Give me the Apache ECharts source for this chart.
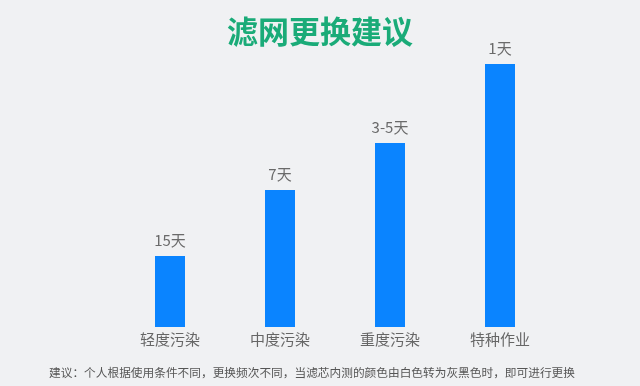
<!DOCTYPE html>
<html><head><meta charset="utf-8">
<script src="https://cdn.jsdelivr.net/npm/echarts@6/dist/echarts.min.js"></script>
<style>html,body{margin:0;padding:0;background:#f0f1f3}#c{width:640px;height:386px}</style>
</head><body><div id="c"></div>
<script>
var categories = ['轻度污染', '中度污染', '重度污染', '特种作业'];
var values = [71, 137, 184, 263];
var valueLabels = ['15天', '7天', '3-5天', '1天'];
var titleText = '滤网更换建议';
var noteText = '建议：个人根据使用条件不同，更换频次不同，当滤芯内测的颜色由白色转为灰黑色时，即可进行更换';

var font = '"Noto Sans CJK SC", "Noto Sans", sans-serif';
var chart = echarts.init(document.getElementById('c'));
chart.setOption({
  backgroundColor: '#f0f1f3',
  title: [{
    text: titleText, left: 'center', top: 11,
    textStyle: { color: '#1aab78', fontSize: 31, fontWeight: 'bold', fontFamily: font }
  }, {
    text: noteText, left: 44, top: 362,
    textStyle: { color: '#555', fontSize: 11.7, fontWeight: 'normal', fontFamily: font }
  }],
  grid: { left: 115, right: 85, top: 27, bottom: 59 },
  xAxis: {
    type: 'category', data: categories,
    axisLine: { show: false }, axisTick: { show: false },
    axisLabel: { color: '#666', fontSize: 15, margin: 5, fontFamily: font }
  },
  yAxis: { type: 'value', min: 0, max: 300, show: false, splitLine: { show: false } },
  series: [{
    type: 'bar', data: values, barWidth: 30,
    itemStyle: { color: '#0a84ff' },
    label: {
      show: true, position: 'top', distance: 8, color: '#6a6a6a', fontSize: 15, fontFamily: font,
      formatter: function (p) { return valueLabels[p.dataIndex]; }
    }
  }]
});
</script></body></html>
